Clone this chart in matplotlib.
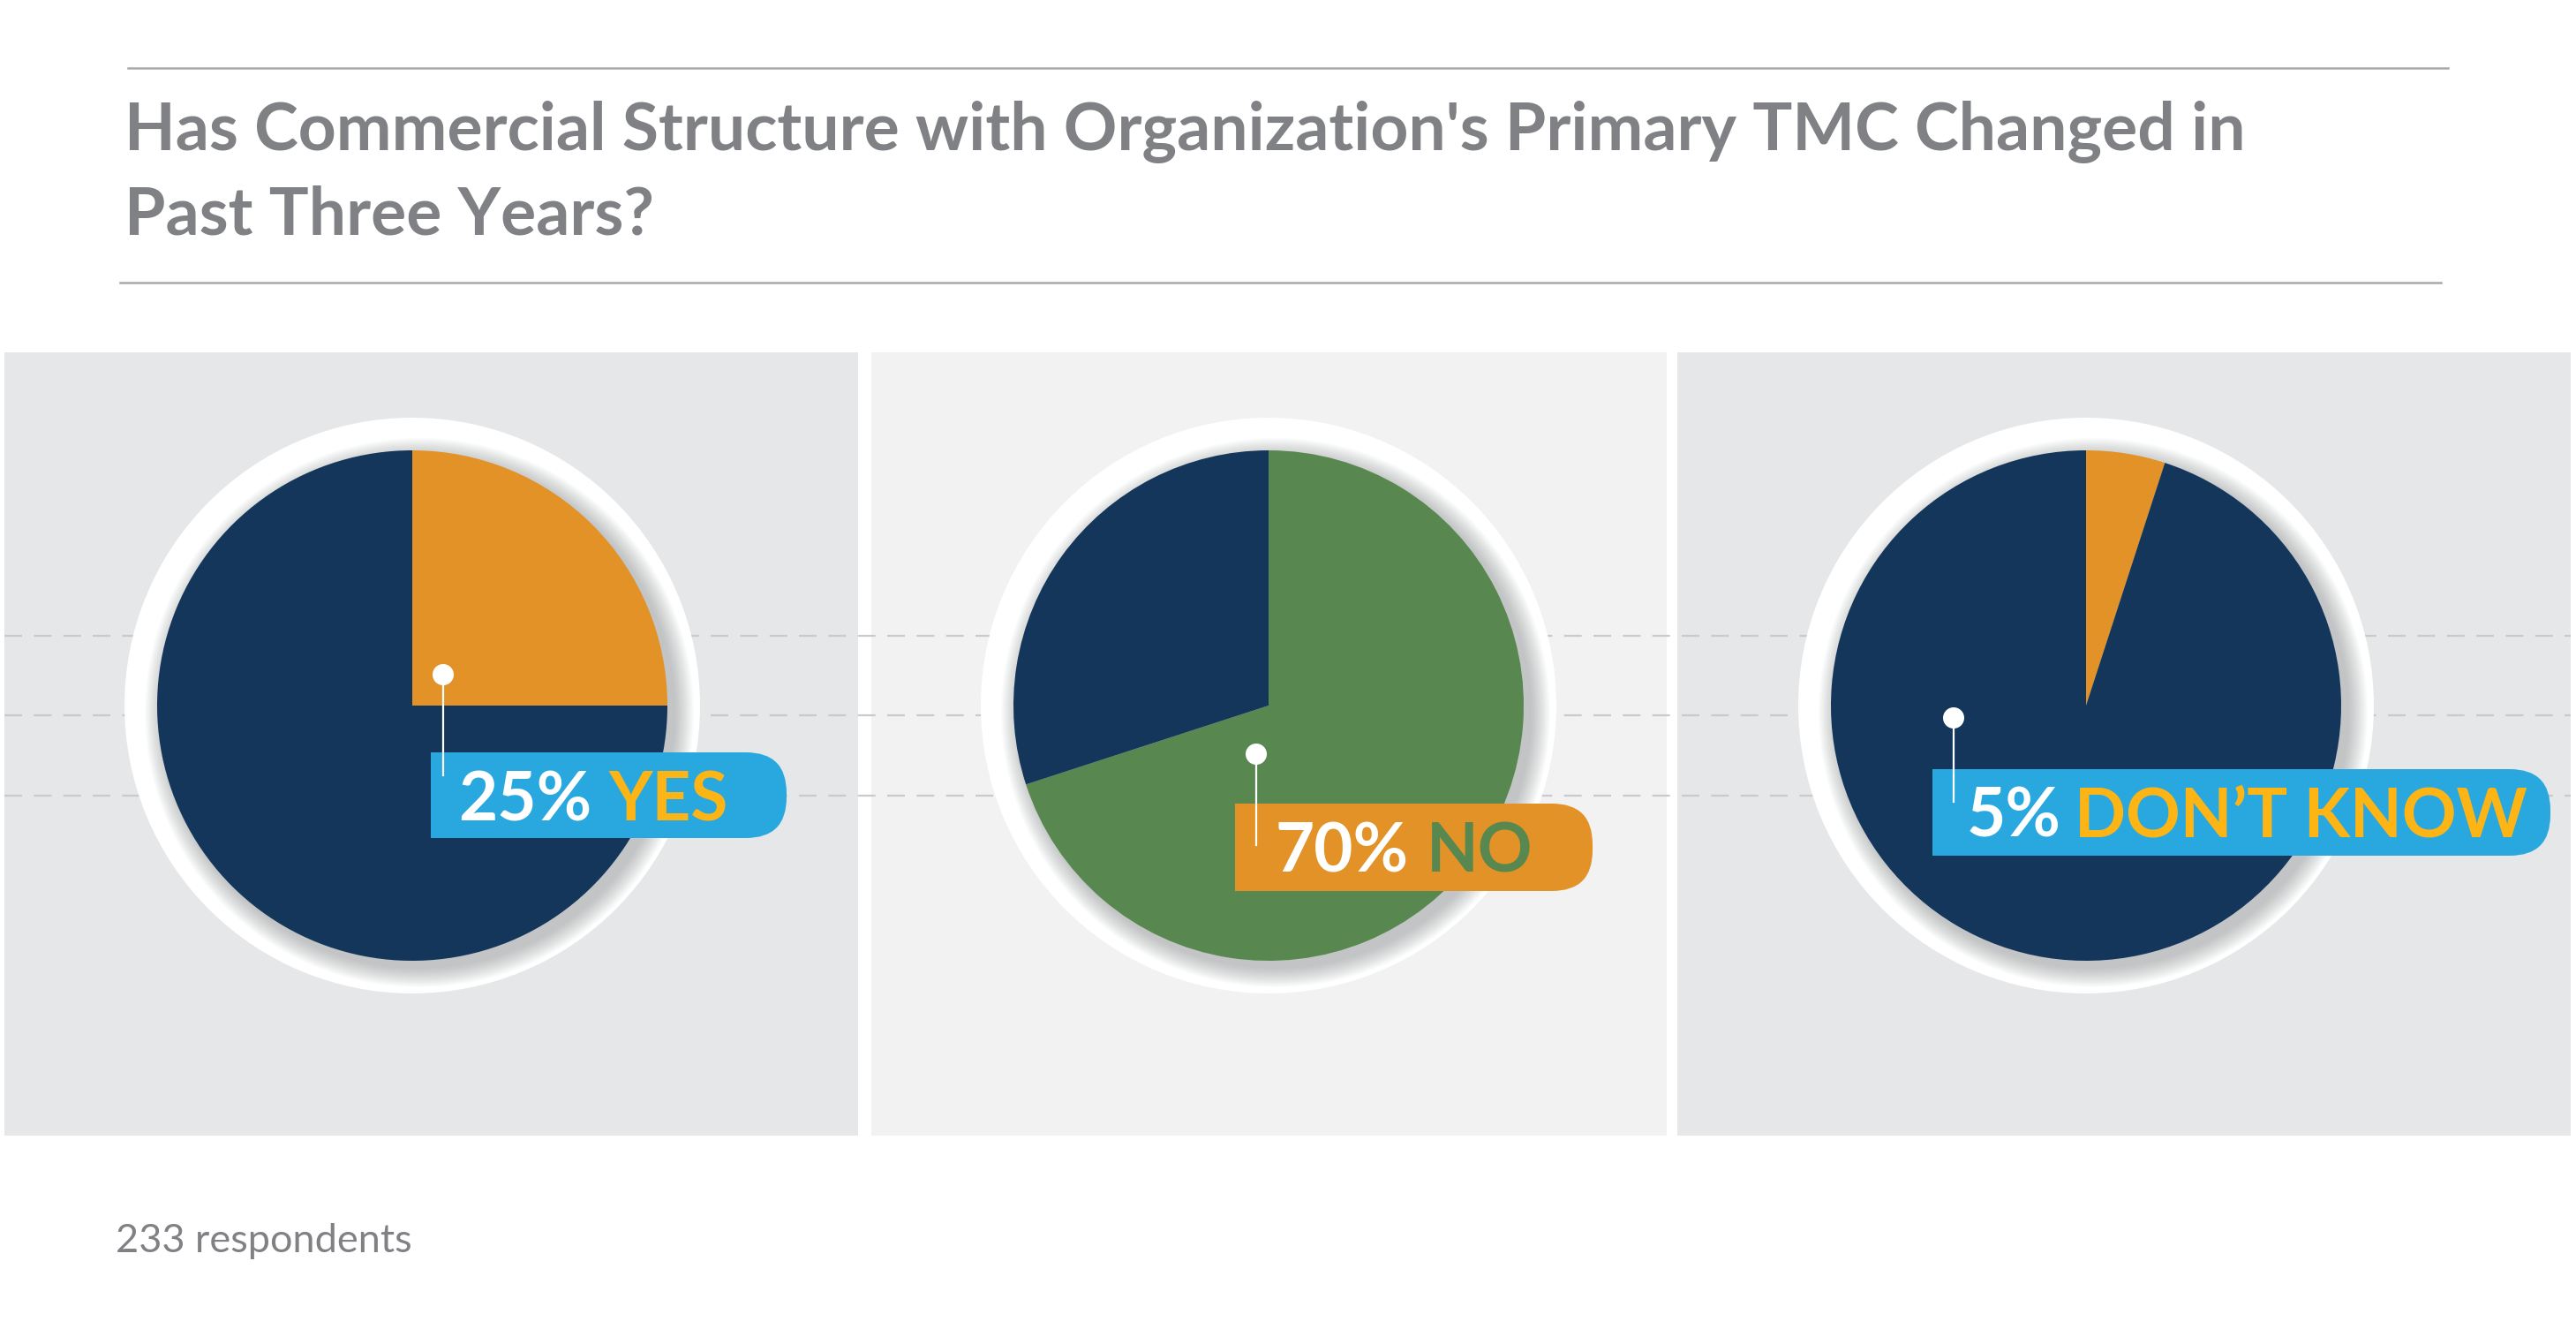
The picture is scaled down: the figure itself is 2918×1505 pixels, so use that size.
import matplotlib
matplotlib.use("Agg")
import matplotlib.pyplot as plt
from matplotlib.patches import Circle, Rectangle, FancyBboxPatch

# ---------------- data ----------------
categories = ["YES", "NO", "DON\u2019T KNOW"]
percents = [25, 70, 5]
respondents_note = "233 respondents"
title_lines = ["Has Commercial Structure with Organization's Primary TMC Changed in",
               "Past Three Years?"]

# ---------------- styles ----------------
NAVY = "#15365B"
ORANGE = "#E29227"
GREEN = "#588850"
BLUE = "#29A8E0"
YELLOW = "#FDB515"
GREY_TXT = "#808184"
highlight_colors = [ORANGE, GREEN, ORANGE]
box_colors = [BLUE, ORANGE, BLUE]
word_colors = [YELLOW, GREEN, YELLOW]

W, H = 2918, 1505
def Y(y):
    return H - y

fig = plt.figure(figsize=(W / 100, H / 100), dpi=100)
ax = fig.add_axes([0, 0, 1, 1])

# panels (x0, x1, colour)
panels = [(5, 972, "#E6E7E9"), (987, 1888, "#F2F2F2"), (1900, 2912, "#E6E7E9")]
for x0, x1, c in panels:
    ax.add_patch(Rectangle((x0, Y(1286)), x1 - x0, 1286 - 399, facecolor=c,
                           edgecolor="none", zorder=0))

# dashed guide lines
for yy in [720, 810, 901]:
    ax.plot([5, 2912], [Y(yy), Y(yy)], color="#C9CACC", lw=1.6,
            dashes=(9, 6), zorder=1)

# title and rules
ax.plot([145, 2773], [Y(77), Y(77)], color="#A7A9AC", lw=1.8, zorder=2)
ax.plot([136, 2765], [Y(320), Y(320)], color="#A7A9AC", lw=1.8, zorder=2)
for i, line in enumerate(title_lines):
    ax.text(141, Y(170 + 95 * i), line, fontsize=54, family="Lato",
            weight="bold", color=GREY_TXT, va="baseline", ha="left", zorder=3)

ax.text(131, Y(1418), respondents_note, fontsize=32.5, family="Lato",
        weight="normal", color=GREY_TXT, va="baseline", ha="left", zorder=3)

# pies
centers_x = [467, 1437, 2363]
cy = 799
R = 289
RING = 326
for k, (cx, pct) in enumerate(zip(centers_x, percents)):
    ring = Circle((cx, Y(cy)), RING, facecolor="white", edgecolor="none",
                  zorder=4)
    ax.add_patch(ring)
    # soft shadow of the pie cast on the ring (lower right)
    for j in range(14):
        sh = Circle((cx + 8, Y(cy) - 8), R + 1 + j * 1.6,
                    facecolor="#7E8084", edgecolor="none",
                    alpha=0.04, zorder=5)
        ax.add_patch(sh)
        sh.set_clip_path(ring)
    wedges, _ = ax.pie([pct, 100 - pct], colors=[highlight_colors[k], NAVY],
                       startangle=90, counterclock=False, center=(cx, Y(cy)),
                       radius=R, wedgeprops=dict(linewidth=0), frame=True)
    for w in wedges:
        w.set_zorder(6)

# labels: box (x0, x1, ytop, ybot), dot (x, y), line end y, text x, baseline
label_layout = [
    dict(box=(488, 891, 852, 949), dot=(502, 764), lend=878, tx=519, base=929),
    dict(box=(1399, 1804, 910, 1009), dot=(1423, 854), lend=957, tx=1445, base=987),
    dict(box=(2189, 2889, 871, 969), dot=(2213, 813), lend=908, tx=2228, base=948),
]
fig.canvas.draw()
renderer = fig.canvas.get_renderer()
inv = ax.transData.inverted()
for k, lay in enumerate(label_layout):
    x0, x1, yt, yb = lay["box"]
    h = yb - yt
    ax.add_patch(FancyBboxPatch((x0, Y(yb)), x1 - x0, h,
                                boxstyle="round,pad=0,rounding_size=46",
                                facecolor=box_colors[k], edgecolor="none",
                                zorder=8))
    ax.add_patch(Rectangle((x0, Y(yb)), 60, h, facecolor=box_colors[k],
                           edgecolor="none", zorder=8))
    dx, dy = lay["dot"]
    ax.plot([dx, dx], [Y(dy), Y(lay["lend"])], color="white", lw=1.6, zorder=9)
    ax.add_patch(Circle((dx, Y(dy)), 12, facecolor="white", edgecolor="none",
                        zorder=9))
    t1 = ax.text(lay["tx"], Y(lay["base"]), f"{percents[k]}%", fontsize=55,
                 family="Lato", weight="bold", color="white", va="baseline",
                 ha="left", zorder=10)
    bb = t1.get_window_extent(renderer=renderer)
    xe = inv.transform((bb.x1, bb.y0))[0] + 5
    ax.text(xe, Y(lay["base"]), categories[k], fontsize=55, family="Lato",
            weight="bold", color=word_colors[k], va="baseline", ha="left",
            zorder=10)

ax.set_xlim(0, W)
ax.set_ylim(0, H)
ax.set_aspect("auto")
ax.axis("off")
fig.savefig("out.png", dpi=100, facecolor="white")
